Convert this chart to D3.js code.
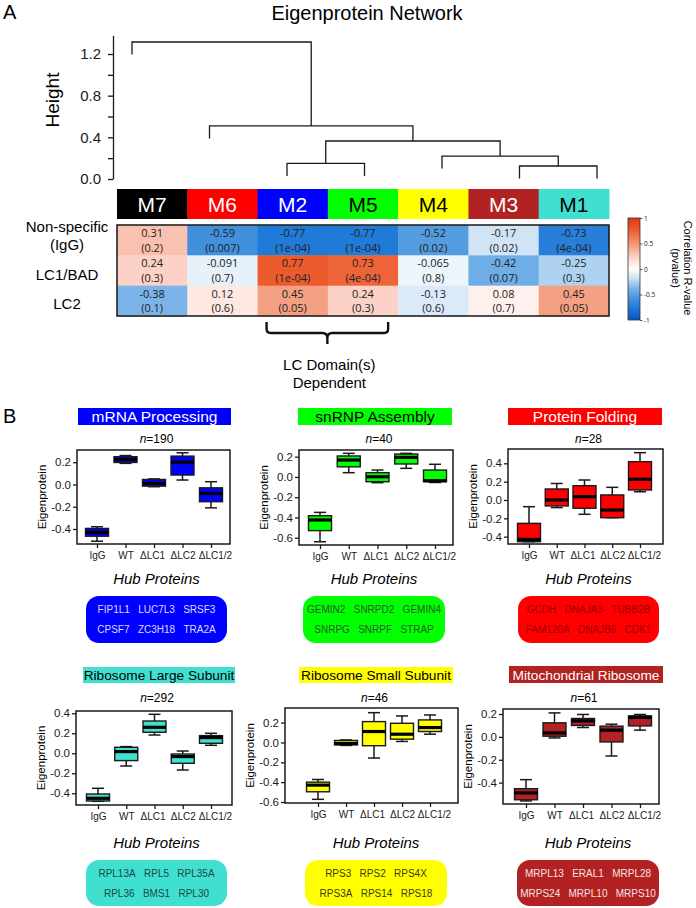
<!DOCTYPE html>
<html>
<head>
<meta charset="utf-8">
<script src="https://cdn.jsdelivr.net/npm/d3@7"></script>
<style>
  body { margin: 0; background: #fff; }
  svg { display: block; font-family: "Liberation Sans", Arial, sans-serif; }
</style>
</head>
<body>
<svg id="fig" width="696" height="908"></svg>
<script>
// ---------- data ----------
const leaves = ["M7", "M6", "M2", "M5", "M4", "M3", "M1"];
const moduleColors = ["#000000", "#ff0000", "#0000ff", "#00ff00", "#ffff00", "#b22222", "#40e0d0"];
const moduleTextColors = ["#fff", "#fff", "#fff", "#000", "#000", "#fff", "#000"];

// hclust merges: [left, right, height]; a number points at an earlier merge
const merges = [
  ["M3", "M1", 0.125],
  ["M2", "M5", 0.15],
  ["M4", 0, 0.22],
  [1, 2, 0.365],
  ["M6", 3, 0.51],
  ["M7", 4, 1.315]
];
const hang = 0.12;
const heightTicks = [0, 0.2, 0.4, 0.6, 0.8, 1.0, 1.2];

const traits = [["Non-specific", "(IgG)"], ["LC1/BAD"], ["LC2"]];
const corrR = [
  [0.31, -0.59, -0.77, -0.77, -0.52, -0.17, -0.73],
  [0.24, -0.091, 0.77, 0.73, -0.065, -0.42, -0.25],
  [-0.38, 0.12, 0.45, 0.24, -0.13, 0.08, 0.45]
];
const corrP = [
  ["0.2", "0.007", "1e-04", "1e-04", "0.02", "0.02", "4e-04"],
  ["0.3", "0.7", "1e-04", "4e-04", "0.8", "0.07", "0.3"],
  ["0.1", "0.6", "0.05", "0.3", "0.6", "0.7", "0.05"]
];
const legendTicks = [1, 0.5, 0, -0.5, -1];

const groups = ["IgG", "WT", "ΔLC1", "ΔLC2", "ΔLC1/2"];
const panelTitles = ["mRNA Processing", "snRNP Assembly", "Protein Folding",
  "Ribosome Large Subunit", "Ribosome Small Subunit", "Mitochondrial Ribosome"];
const panelModules = ["M2", "M5", "M6", "M1", "M4", "M3"];
const panelN = [190, 40, 28, 292, 46, 61];
const panelTicks = [
  [0.2, 0, -0.2, -0.4],
  [0.2, 0, -0.2, -0.4, -0.6],
  [0.4, 0.2, 0, -0.2, -0.4],
  [0.4, 0.2, 0, -0.2, -0.4],
  [0.2, 0, -0.2, -0.4, -0.6],
  [0.2, 0, -0.2, -0.4]
];
// [min, q1, median, q3, max] for IgG, WT, dLC1, dLC2, dLC1/2
const boxStats = [
  [[-0.51, -0.465, -0.43, -0.395, -0.38], [0.19, 0.198, 0.225, 0.25, 0.26], [-0.02, -0.015, 0.01, 0.045, 0.05],
   [0.04, 0.085, 0.2, 0.255, 0.285], [-0.21, -0.155, -0.08, -0.03, 0.025]],
  [[-0.64, -0.53, -0.425, -0.383, -0.35], [0.042, 0.10, 0.167, 0.207, 0.233], [-0.057, -0.047, 0.002, 0.042, 0.068],
   [0.085, 0.128, 0.193, 0.226, 0.233], [-0.055, -0.047, -0.037, 0.068, 0.125]],
  [[-0.455, -0.455, -0.43, -0.255, -0.073], [-0.083, -0.065, 0.0, 0.12, 0.18], [-0.156, -0.09, 0.036, 0.156, 0.218],
   [-0.193, -0.193, -0.109, 0.055, 0.138], [0.09, 0.109, 0.226, 0.418, 0.516]],
  [[-0.48, -0.477, -0.45, -0.407, -0.35], [-0.127, -0.073, 0.017, 0.06, 0.067], [0.183, 0.21, 0.26, 0.323, 0.39],
   [-0.167, -0.1, -0.033, -0.007, 0.023], [0.08, 0.1, 0.157, 0.177, 0.2]],
  [[-0.573, -0.497, -0.43, -0.4, -0.373], [-0.03, -0.025, -0.01, 0.02, 0.025], [-0.157, -0.033, 0.11, 0.21, 0.3],
   [0.01, 0.033, 0.083, 0.193, 0.267], [0.083, 0.11, 0.15, 0.227, 0.277]],
  [[-0.56, -0.55, -0.49, -0.453, -0.374], [-0.009, 0.006, 0.035, 0.123, 0.21], [0.082, 0.1, 0.14, 0.161, 0.196],
   [-0.167, -0.044, 0.059, 0.094, 0.111], [0.059, 0.096, 0.17, 0.184, 0.196]]
];
const hubProteins = [
  ["FIP1L1", "LUC7L3", "SRSF3", "CPSF7", "ZC3H18", "TRA2A"],
  ["GEMIN2", "SNRPD2", "GEMIN4", "SNRPG", "SNRPF", "STRAP"],
  ["GCDH", "DNAJA3", "TUBB2B", "FAM120A", "DNAJB6", "CDK1"],
  ["RPL13A", "RPL5", "RPL35A", "RPL36", "BMS1", "RPL30"],
  ["RPS3", "RPS2", "RPS4X", "RPS3A", "RPS14", "RPS18"],
  ["MRPL13", "ERAL1", "MRPL28", "MRPS24", "MRPL10", "MRPS10"]
];

// ---------- styles ----------
const bannerText = ["#fff", "#000", "#fff", "#000", "#000", "#fff"];
const hubText = ["#dcdcff", "#265a26", "#980000", "#1d4845", "#3a3a10", "#f4e4e4"];
const ink = "#1a1a1a";

const svg = d3.select("#fig");
svg.append("rect").attr("width", 696).attr("height", 908).attr("fill", "#fff");

// ---------- panel A ----------
svg.append("text").attr("x", 3).attr("y", 19).attr("font-size", 20).text("A");
svg.append("text").attr("x", 367).attr("y", 20).attr("text-anchor", "middle")
  .attr("font-size", 20).text("Eigenprotein Network");

// dendrogram
const xLeaf = d3.scalePoint().domain(leaves).range([132, 597]);
const yH = d3.scaleLinear().domain([0, 1.38]).range([179, 35.25]);

const dendro = svg.append("g").attr("fill", "none").attr("stroke", ink).attr("stroke-width", 1.3);
const nodes = [];
merges.forEach(([a, b, h]) => {
  const kid = k => typeof k === "number"
    ? { x: nodes[k].x, h: nodes[k].h }
    : { x: xLeaf(k), h: h - hang };
  const l = kid(a), r = kid(b);
  nodes.push({ x: (l.x + r.x) / 2, h });
  dendro.append("path").attr("d",
    `M${l.x},${yH(l.h)}V${yH(h)}H${r.x}V${yH(r.h)}`);
});

const hAxis = svg.append("g").attr("transform", "translate(113,0)")
  .call(d3.axisLeft(yH).tickValues(heightTicks).tickSize(5).tickSizeOuter(0).tickPadding(7)
    .tickFormat((d, i) => i % 2 === 0 ? d.toFixed(1) : ""));
hAxis.selectAll("text").attr("font-size", 15).attr("font-family", "Liberation Sans, Arial, sans-serif").attr("fill", ink);
hAxis.selectAll("line, path").attr("stroke", ink).attr("stroke-width", 1.3);
svg.append("text").attr("transform", "translate(59,100) rotate(-90)")
  .attr("text-anchor", "middle").attr("font-size", 19).text("Height");

// module colour bar
const xCell = d3.scaleBand().domain(leaves).range([117, 609]);
const bar = svg.append("g");
leaves.forEach((m, i) => {
  bar.append("rect").attr("x", xCell(m)).attr("y", 189).attr("width", xCell.bandwidth() + 0.5)
    .attr("height", 30).attr("fill", moduleColors[i]);
  bar.append("text").attr("x", xCell(m) + xCell.bandwidth() / 2).attr("y", 211.5)
    .attr("text-anchor", "middle").attr("font-size", 21).attr("fill", moduleTextColors[i]).text(m);
});

// heatmap
const heatColor = d3.scaleLinear()
  .domain([-1, -0.77, -0.59, -0.38, -0.17, 0, 0.24, 0.45, 0.77, 1])
  .range(["#0b52bf", "#1f7ad8", "#4190dc", "#7ab4e8", "#d0e4f6", "#ffffff", "#fbd2c5", "#f4a083", "#ec5b2e", "#e03515"]);
const yRow = d3.scaleBand().domain([0, 1, 2]).range([225, 316]);
const heat = svg.append("g");
corrR.forEach((row, r) => {
  row.forEach((v, c) => {
    const x0 = xCell(leaves[c]);
    heat.append("rect").attr("x", x0).attr("y", yRow(r)).attr("width", xCell.bandwidth() + 0.5)
      .attr("height", yRow.bandwidth() + 0.5).attr("fill", heatColor(v));
    const t = heat.append("text").attr("text-anchor", "middle").attr("font-size", 11)
      .attr("font-family", "'Open Sans', sans-serif").attr("fill", "#222");
    t.append("tspan").attr("x", x0 + xCell.bandwidth() / 2).attr("y", yRow(r) + 12).text(String(v));
    t.append("tspan").attr("x", x0 + xCell.bandwidth() / 2).attr("y", yRow(r) + 26.5).text(`(${corrP[r][c]})`);
  });
});
heat.append("rect").attr("x", 117).attr("y", 225).attr("width", 492).attr("height", 91)
  .attr("fill", "none").attr("stroke", "#222").attr("stroke-width", 1.6);

const traitY = [[232, 250], [280], [309]];
traits.forEach((lines, r) => {
  lines.forEach((s, k) => {
    svg.append("text").attr("x", 67).attr("y", traitY[r][k]).attr("text-anchor", "middle")
      .attr("font-size", 15).text(s);
  });
});

// colour legend
const yLeg = d3.scaleLinear().domain([-1, 1]).range([320, 218]);
const grad = svg.append("defs").append("linearGradient").attr("id", "corrGrad")
  .attr("x1", 0).attr("y1", 1).attr("x2", 0).attr("y2", 0);
d3.range(-1, 1.001, 0.05).forEach(v => {
  grad.append("stop").attr("offset", (v + 1) / 2).attr("stop-color", heatColor(v));
});
svg.append("rect").attr("x", 628).attr("y", 218).attr("width", 12).attr("height", 102)
  .attr("fill", "url(#corrGrad)").attr("stroke", "#333").attr("stroke-width", 0.8);
const legAxis = svg.append("g").attr("transform", "translate(640,0)")
  .call(d3.axisRight(yLeg).tickValues(legendTicks).tickSize(2.5).tickSizeOuter(0).tickPadding(1.5)
    .tickFormat(d => String(d)));
legAxis.select(".domain").remove();
legAxis.selectAll("text").attr("font-size", 6.5).attr("font-family", "'Open Sans', sans-serif").attr("fill", "#222");
legAxis.selectAll("line").attr("stroke", "#333").attr("stroke-width", 0.8);
svg.append("text").attr("transform", "translate(684,268) rotate(90)").attr("text-anchor", "middle")
  .attr("font-size", 11).text("Correlation R-value");
svg.append("text").attr("transform", "translate(672,268) rotate(90)").attr("text-anchor", "middle")
  .attr("font-size", 11).text("(pvalue)");

// bracket under M2 / M5
const bx0 = xCell("M2") + 9, bx1 = xCell("M5") + xCell.bandwidth() - 10, bm = (bx0 + bx1) / 2;
svg.append("path").attr("fill", "none").attr("stroke", "#111").attr("stroke-width", 2.4)
  .attr("d", `M${bx0},322V329Q${bx0},333 ${bx0 + 4},333H${bm - 5}Q${bm},333 ${bm},338V344` +
    `M${bm},338Q${bm},333 ${bm + 5},333H${bx1 - 4}Q${bx1},333 ${bx1},329V322`);
svg.append("text").attr("x", bm + 2).attr("y", 370).attr("text-anchor", "middle").attr("font-size", 15).text("LC Domain(s)");
svg.append("text").attr("x", bm + 2).attr("y", 388).attr("text-anchor", "middle").attr("font-size", 15).text("Dependent");

// ---------- panel B ----------
svg.append("text").attr("x", 3).attr("y", 423).attr("font-size", 20).text("B");

const layout = [
  { fx: [77, 230], fy: [450, 544], dom: [-0.535, 0.31], cx: [97, 211], banner: [78, 231, 408, 425], hub: [86, 227, 596, 643], row: 0 },
  { fx: [299, 453], fy: [450, 545], dom: [-0.672, 0.266], cx: [320, 435], banner: [298, 452, 408, 425], hub: [303, 445, 596, 643], row: 0 },
  { fx: [508, 663], fy: [449, 544], dom: [-0.48, 0.556], cx: [529, 640], banner: [508, 662, 408, 425], hub: [518, 659, 596, 643], row: 0 },
  { fx: [76, 232], fy: [711, 805], dom: [-0.517, 0.423], cx: [98, 211], banner: [83, 235, 667, 683], hub: [86, 227, 860, 906], row: 1 },
  { fx: [285, 458], fy: [708, 803], dom: [-0.61, 0.347], cx: [318, 430], banner: [299, 453, 667, 683], hub: [305, 447, 860, 906], row: 1 },
  { fx: [503, 659], fy: [709, 804], dom: [-0.587, 0.244], cx: [526, 640], banner: [509, 663, 666, 683], hub: [517, 659, 860, 906], row: 1 }
];
const nY = [443, 702], hubLabelY = [584, 848], bannerFont = [15.5, 13.7];
const labelShift = { "ΔLC1": -2, "ΔLC1/2": 4 };

panelTitles.forEach((title, i) => {
  const L = layout[i];
  const col = moduleColors[leaves.indexOf(panelModules[i])];
  const g = svg.append("g");
  const mid = (L.fx[0] + L.fx[1]) / 2;

  // title banner
  g.append("rect").attr("x", L.banner[0]).attr("y", L.banner[2])
    .attr("width", L.banner[1] - L.banner[0]).attr("height", L.banner[3] - L.banner[2]).attr("fill", col);
  g.append("text").attr("x", (L.banner[0] + L.banner[1]) / 2).attr("y", L.banner[3] - 3)
    .attr("text-anchor", "middle").attr("font-size", bannerFont[L.row]).attr("fill", bannerText[i]).text(title);

  // n label
  const nt = g.append("text").attr("x", mid + 3).attr("y", nY[L.row]).attr("text-anchor", "middle").attr("font-size", 12);
  nt.append("tspan").attr("font-style", "italic").text("n");
  nt.append("tspan").text("=" + panelN[i]);

  const y = d3.scaleLinear().domain(L.dom).range([L.fy[1], L.fy[0]]);
  const x = d3.scalePoint().domain(groups).range(L.cx);

  const ya = g.append("g").attr("transform", `translate(${L.fx[0]},0)`)
    .call(d3.axisLeft(y).tickValues(panelTicks[i]).tickSize(4).tickPadding(2).tickFormat(d => d.toFixed(1)));
  ya.select(".domain").remove();
  const xa = g.append("g").attr("transform", `translate(0,${L.fy[1]})`)
    .call(d3.axisBottom(x).tickSize(4).tickPadding(4));
  xa.select(".domain").remove();
  [ya, xa].forEach(a => {
    a.selectAll("text").attr("font-family", "Liberation Sans, Arial, sans-serif").attr("fill", ink);
    a.selectAll("line").attr("stroke", ink).attr("stroke-width", 1.3);
  });
  ya.selectAll("text").attr("font-size", 11.5);
  xa.selectAll("text").attr("font-size", 10).attr("dx", d => labelShift[d] || 0);

  g.append("text").attr("transform", `translate(${L.fx[0] - 31},${(L.fy[0] + L.fy[1]) / 2}) rotate(-90)`)
    .attr("text-anchor", "middle").attr("font-size", 11.5).text("Eigenprotein");

  // boxes
  const bw = 23, cap = 12;
  groups.forEach((grp, k) => {
    const [mn, q1, md, q3, mx] = boxStats[i][k];
    const cxk = x(grp);
    g.append("line").attr("x1", cxk).attr("x2", cxk).attr("y1", y(mn)).attr("y2", y(mx))
      .attr("stroke", ink).attr("stroke-width", 1.5);
    [mn, mx].forEach(v => g.append("line").attr("x1", cxk - cap / 2).attr("x2", cxk + cap / 2)
      .attr("y1", y(v)).attr("y2", y(v)).attr("stroke", ink).attr("stroke-width", 1.5));
    g.append("rect").attr("x", cxk - bw / 2).attr("y", y(q3)).attr("width", bw)
      .attr("height", Math.max(1, y(q1) - y(q3))).attr("fill", col).attr("stroke", ink).attr("stroke-width", 1.4);
    g.append("line").attr("x1", cxk - bw / 2).attr("x2", cxk + bw / 2).attr("y1", y(md)).attr("y2", y(md))
      .attr("stroke", "#000").attr("stroke-width", 3.2);
  });

  g.append("rect").attr("x", L.fx[0]).attr("y", L.fy[0]).attr("width", L.fx[1] - L.fx[0])
    .attr("height", L.fy[1] - L.fy[0]).attr("fill", "none").attr("stroke", ink).attr("stroke-width", 1.5);

  // hub proteins: two centred rows of three names
  const hcx = (L.hub[0] + L.hub[1]) / 2;
  g.append("text").attr("x", hcx).attr("y", hubLabelY[L.row]).attr("text-anchor", "middle")
    .attr("font-size", 15).attr("font-style", "italic").text("Hub Proteins");
  g.append("rect").attr("x", L.hub[0]).attr("y", L.hub[2]).attr("width", L.hub[1] - L.hub[0])
    .attr("height", L.hub[3] - L.hub[2]).attr("rx", 13).attr("fill", col);
  [hubProteins[i].slice(0, 3), hubProteins[i].slice(3)].forEach((names, r) => {
    g.append("text").attr("x", hcx).attr("y", L.hub[2] + (r === 0 ? 17 : 36.5))
      .attr("text-anchor", "middle").attr("font-size", 10).attr("fill", hubText[i])
      .text(names.join("\u00a0\u00a0\u00a0"));
  });
});
</script>
</body>
</html>
